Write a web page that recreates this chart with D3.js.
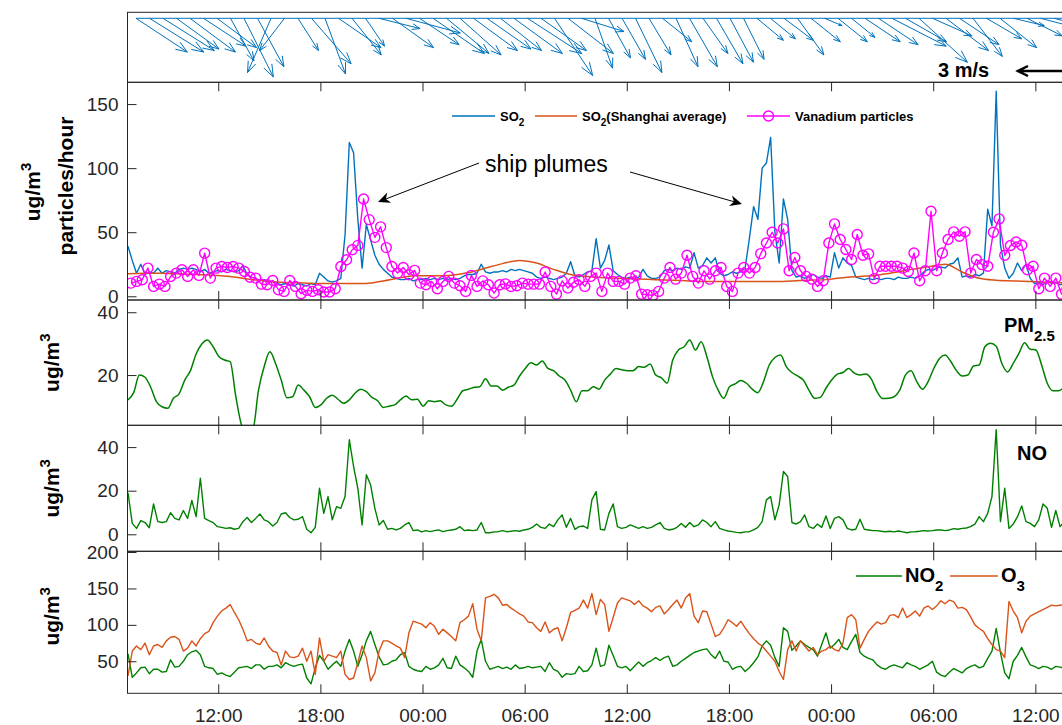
<!DOCTYPE html>
<html>
<head>
<meta charset="utf-8">
<script src="https://cdn.jsdelivr.net/npm/d3@7"></script>
<style>
  body { margin: 0; background: #fff; }
  svg { display: block; }
</style>
</head>
<body>
<svg id="chart"></svg>
<script>
// ---- data (hours counted from 00:00 of the first day) ----
// 15-minute series
let qStart = 6.7, qStep = 0.25;
let so2 = [39,28,18,25,17,19,18,22,18,20, 19,18,21,22,21,22,21,19,21,18,
  19,20,19,21,20,19,20,24,17,15, 14,12,13,11,12,10,9,10,9,8,
  10,9,8,10,9,18,15,12,11,12, 14,48,120,112,60,22,56,44,32,25,
  21,18,15,14,13,13,14,12,13,13, 14,13,14,13,14,13,14,13,14,16,
  17,17,18,25,19,18,19,19,20,19, 21,20,21,20,19,18,15,14,15,14,
  13,14,15,18,27,16,15,17,19,20, 45,22,28,40,20,17,15,14,15,14,
  15,21,16,14,14,15,20,21,20,22, 21,23,22,34,22,24,30,26,30,18,
  16,17,19,18,19,22,45,70,60,100, 104,124,50,26,76,60,20,15,16,14,
  15,17,15,14,16,15,34,22,30,26, 24,15,14,13,14,13,14,13,14,14,
  13,15,14,14,15,14,16,19,21,20, 22,23,22,25,26,30,15,16,15,17,
  16,18,68,55,160,40,22,14,18,26, 20,25,14,10,11,9,12,10,11,9, 10];
let no = [19,5,2.7,6.3,5.4,3,13.9,5.8,5.4,5.8, 9.9,7.3,6.6,10.9,7.3,15.5,8.1,25.7,7.3,6.3,
  5.4,3.5,3.2,2.7,3,2.3,2.7,5.8,7.7,5.4, 7.3,9.3,6.6,5.8,3.8,5.4,9.3,9.9,7.7,6.6,
  6.9,8.1,2.3,0.7,3.2,21.1,9.6,17.3,6.6,12.7, 11.9,17.3,43.4,31.1,21.1,4.3,27.3,22.7,11.9,4.3,
  6.3,2.3,2.7,2,2.7,4.3,5.4,1.7,2,1.1, 1.7,1.2,1.7,2,1.2,1.7,2,2.3,3.5,1.7,
  2,1.7,2,5.4,0.7,0.7,1.1,1.2,1.7,1.2, 1.4,1.7,1.4,2,2.3,3.2,4.7,3.2,2.7,4.7,
  3.5,6.6,8.9,3.2,7.3,2.3,3.5,3.8,2.7,15.8, 19.6,2.3,2,9.6,13.9,3.5,2.7,3.2,4.3,3.5,
  2.7,3.5,2.7,3.2,4.3,5.4,2.7,2,2.3,3.2, 5,3.2,5.4,3.5,4.3,6.6,5.4,3.5,5.8,2.7,
  2,1.5,1.2,0.9,0.7,1.1,1.2,2,3.2,5.8, 15.8,17.3,6.6,13.5,28.8,26.5,5.4,4.7,5.8,8.9,
  3.5,2.7,4.7,3.2,8.4,2.7,7.3,8.1,6.6,2.7, 2,2.3,6.9,2.3,2,1.7,1.7,1.4,1.2,1.4,
  1.1,1.5,1.1,0.7,1.1,1.2,1.4,1.7,1.5,1.7, 2,2,1.7,2,2.6,2.3,2.7,2.9,3.5,4.7,
  8.1,5.8,9.6,17.3,48,5.8,21.1,2.7,4.7,8.1, 13,5.8,5,3.5,6.6,13.9,11.9,3.2,10.9,3.5, 5.8];
let no2 = [60,28,34,41,42,33,39,39,35,36, 52,42,43,50,59,63,65,59,43,41,
  40,32,34,31,29,35,41,42,43,40, 45,45,39,43,43,45,41,48,45,43,
  45,46,27,19,41,58,50,39,45,50, 43,64,80,64,43,59,78,91,73,56,
  45,46,50,52,59,62,43,39,37,36, 43,39,41,45,54,41,40,57,45,41,
  36,28,64,80,50,39,41,43,40,42, 39,45,40,41,43,41,42,43,36,48,
  39,36,28,33,32,33,43,36,37,45, 68,43,45,72,58,43,41,43,37,43,
  49,43,48,51,55,51,55,57,43,45, 50,54,58,62,64,66,67,59,54,64,
  50,49,39,42,43,36,41,48,56,71, 78,72,55,43,96,91,65,71,78,73,
  69,66,57,73,89,68,73,80,69,66, 77,87,62,57,54,52,45,41,39,43,
  45,43,41,48,45,43,39,42,45,50, 35,31,29,35,40,37,34,40,43,45,
  41,43,54,64,95,62,34,26,50,58, 69,56,45,43,40,43,42,39,43,42, 41];
let o3 = [30,64,71,66,75,59,71,73,69,78, 83,84,80,64,68,78,71,81,88,91,
  103,112,119,123,128,117,107,94,78,80, 75,73,82,71,64,62,45,64,56,55,
  57,68,50,64,32,82,50,59,57,55, 64,32,25,27,48,71,55,23,34,64,
  78,78,75,71,68,55,89,105,103,101, 96,103,98,87,94,89,84,78,103,107,
  112,129,94,78,137,139,142,137,127,128, 123,119,115,112,104,103,96,91,104,89,
  94,96,78,96,117,120,123,134,123,143, 114,135,128,91,110,130,137,135,133,128,
  133,126,123,118,124,126,115,121,128,134, 123,137,143,112,103,119,118,101,84,87,
  96,107,103,98,105,96,88,81,75,71, 64,57,50,36,25,66,78,64,78,71,
  64,69,59,64,66,71,66,64,75,110, 114,107,68,80,91,98,104,101,103,113,
  114,110,123,110,114,119,112,123,126,121, 126,133,129,134,132,123,124,121,111,100,
  95,91,81,73,66,64,55,132,119,110, 89,105,112,115,118,121,124,127,126,127, 128];

// 20-minute series
let pmStart = 6.7, pmStep = 1 / 3;
let pm25 = [12.1,14.4,20,19.3,16.1,11.5,9.9,9.4,12.6,14, 18.4,21.4,26.7,29.9,31.2,29,25.9,24.8,24.3,13.1,
  4.1,1.4,2.5,15.2,22.7,27.4,23.7,18.4,12.8,13.1, 16.8,15.2,13.1,9.7,10.5,12.6,13.6,12.3,11,12.1,
  14.2,15.5,14.7,12.9,11.8,9.7,10.1,10.5,12.1,13.3, 12.1,12.3,10.1,11.8,11.5,11.8,10.5,10.1,12.3,15,
  15.5,16.1,16.3,18.8,16.5,16.5,15.2,16.1,16.8,19.7, 22.1,23.9,23.2,24.5,22.1,21.4,19.7,18.4,15.2,11.5,
  15,15,16.3,15.5,18.4,20.3,22.1,21.7,21.4,21.4, 22.7,22.5,23.5,20,19.1,17.4,24.8,28,29,31.2,
  28,30.6,25.9,19.5,15.2,12.6,16.3,17.2,18.3,17.4, 15.5,14.4,17.9,23.2,25.6,26.4,22.7,20.8,19.7,18.4,
  15.2,12.6,12.9,15.8,18.4,20.3,20.8,22.1,20.6,20, 20.3,18.7,14.7,12.5,12.6,13.1,15.2,20,21.4,17.9,
  15.5,17.9,22.1,25.3,26.4,24.3,21.4,19.7,20,22.9, 23.2,29,30.1,29.2,23.7,21,23.7,26.9,30.3,28.2,
  28,23.2,17.4,15,15,16.1];
let vanStart = 6.87, vanStep = 1 / 3;
let vanadium = [10.3,11.6,12.9,22,7.7,9.5,7.7,15.5,18.1,20.7, 15.5,20.7,16.3,33.7,14.2,22,23.3,22.5,23.3,22,
  19.4,14.8,14.2,9.5,9,12.3,5.1,3.8,12.3,7.7, 2,4.6,3.8,5.1,3.3,3.3,5.9,23.3,28.5,36.3,
  39.7,75.9,59.8,46,54.2,38,23.3,18.1,22.5,16.8, 20.2,10.3,9,11.6,5.9,11.6,15.5,10.3,8.2,3.8,
  16.3,7.7,12,9,2.5,9,9.7,7.7,8.2,10.3, 9.5,9.5,9.5,18.9,7.7,1.7,12,6.4,11,12.9,
  7.7,15.5,18.1,3.8,18.1,11.6,11.6,9.5,14.2,16, 1.7,1.2,0.7,3.8,14.2,22.5,13.4,18.1,32,15.5,
  10.3,19.9,13.4,19.9,22.5,7.7,3.8,18.1,22.5,18.1, 22.5,33.3,41.6,50,41.6,52.6,19.9,30.3,19.9,15.5,
  13.4,7.7,12.1,41.6,56.5,44.3,36.5,28.7,48.2,32, 33.1,13.8,23.4,23.4,23.4,23.4,22,19.4,33.8,12.1,
  19.9,66.4,19.9,33.8,44.3,50.3,46.9,50.3,18.1,28.7, 24.7,23.4,50,60.4,32,39.6,42.4,39.8,20.7,23.4,
  5.9,14.2,7.7,14.2,1.7,5.9];

// hourly series
let shStart = 6.7, shStep = 1;
let so2Shanghai = [17.5,18,18,17.5,17,16.5,15.5,13.5,12,11, 10.5,10,10,10,10,12,14.5,16,16,16.5,
  18.5,22,25.5,28,26,21,17,15.5,14.5,14, 13.5,13,12.5,12,11.5,11.5,11.5,11.5,11.5,12,
  12.5,13,14.5,15.5,16.5,18.5,21,23,25,19, 14,12.5,12,11.5,11,10.5];

// wind vectors, m/s (east, north)
let windU = [3.5,3.7,3.5,2.9,3.1,2.9,2.7,1.6,2.0,1.8, -1.6,-1.7,1.4,2.7,1.4,2.9,2.0,1.3,2.8,2.8,
  3.7,2.7,3.5,2.9,2.8,3.0,3.0,2.8,3.3,3.7, 3.1,2.6,3.1,2.9,1.2,1.5,1.6,1.8,1.5,2.0,
  1.5,1.9,1.7,1.8,1.6,1.4,1.8,1.7,2.0,1.8, 2.0,1.2,2.0,1.6,2.4,2.7,3.7,2.8,3.3,2.7,
  2.9,2.7,2.0,2.4,2.5,2.1,2.4,2.7,2.7];
let windV = [-2.3,-2.3,-2.2,-2.1,-2.3,-1.9,-2.0,-2.9,-4.0,-3.3, -3.7,-2.2,-2.2,-3.1,-3.8,-2.0,-2.5,-1.9,-0.7,-2.0,
  -1.0,-1.8,-2.4,-2.4,-2.5,-2.2,-2.1,-2.2,-2.4,-2.4, -2.2,-3.9,-2.4,-0.9,-3.4,-2.7,-2.8,-3.7,-2.5,-1.6,
  -3.3,-3.3,-2.4,-3.1,-3.0,-2.8,-1.5,-1.4,-1.5,-2.5, -1.6,-0.5,-1.6,-1.3,-1.6,-1.8,-1.9,-1.6,-3.0,-1.2,
  -2.2,-1.8,-2.6,-1.4,-2.0,-0.5,-1.2,-0.7,-0.7];
let windRef = 3;

let tickHours = [12, 18, 24, 30, 36, 42, 48, 54, 60];
let tickLabels = ["12:00", "18:00", "00:00", "06:00", "12:00", "18:00", "00:00", "06:00", "12:00"];

// ---- layout ----
let W = 1062, H = 725;
let left = 127.5, right = 1066;
let font = '"Liberation Sans", Arial, Helvetica, sans-serif';
let axisColor = '#262626';

let svg = d3.select('#chart').attr('width', W).attr('height', H)
  .attr('font-family', font);

let x = d3.scaleLinear().domain([6.67, 61.8]).range([left, right]);

let panels = [
  {id: 'so2', top: 82.3, bottom: 300, domain: [-2.9, 167], ticks: [0, 50, 100, 150]},
  {id: 'pm', top: 300, bottom: 425.3, domain: [4, 43.9], ticks: [20, 40]},
  {id: 'no', top: 425.3, bottom: 551.3, domain: [-7.8, 50], ticks: [0, 20, 40]},
  {id: 'ox', top: 551.3, bottom: 693.3, domain: [6, 201], ticks: [50, 100, 150, 200]}
];
panels.forEach(p => {
  p.y = d3.scaleLinear().domain(p.domain).range([p.bottom, p.top]);
  svg.append('clipPath').attr('id', 'clip-' + p.id)
    .append('rect').attr('x', left).attr('y', p.top)
    .attr('width', right - left).attr('height', p.bottom - p.top);
});
let P = {};
panels.forEach(p => P[p.id] = p);

function series(values, start, step) {
  return values.map((v, i) => ({t: start + i * step, v: v}));
}

function drawLine(p, data, color, width, curve) {
  let line = d3.line().x(d => x(d.t)).y(d => p.y(d.v));
  if (curve) line.curve(curve);
  return svg.append('path')
    .attr('clip-path', 'url(#clip-' + p.id + ')')
    .attr('d', line(data))
    .attr('fill', 'none').attr('stroke', color).attr('stroke-width', width)
    .attr('stroke-linejoin', 'round');
}

// ---- SO2 panel ----
drawLine(P.so2, series(so2, qStart, qStep), '#0072BD', 1.4);
drawLine(P.so2, series(so2Shanghai, shStart, shStep), '#D95319', 1.5, d3.curveMonotoneX);
let van = series(vanadium, vanStart, vanStep);
drawLine(P.so2, van, '#FF00FF', 1.4);
svg.append('g').attr('clip-path', 'url(#clip-so2)')
  .selectAll('circle').data(van).enter().append('circle')
  .attr('cx', d => x(d.t)).attr('cy', d => P.so2.y(d.v)).attr('r', 5)
  .attr('fill', 'none').attr('stroke', '#FF00FF').attr('stroke-width', 1.4);

// ---- PM2.5 ----
drawLine(P.pm, series(pm25, pmStart, pmStep), '#008000', 1.5, d3.curveMonotoneX);

// ---- NO ----
drawLine(P.no, series(no, qStart, qStep), '#008000', 1.4);

// ---- NO2 / O3 ----
drawLine(P.ox, series(no2, qStart, qStep), '#008000', 1.4);
drawLine(P.ox, series(o3, qStart, qStep), '#D95319', 1.4);

// ---- axes ----
panels.forEach((p, k) => {
  svg.append('rect').attr('x', left).attr('y', p.top)
    .attr('width', right - left).attr('height', p.bottom - p.top)
    .attr('fill', 'none').attr('stroke', axisColor).attr('stroke-width', 1);

  let ya = svg.append('g').attr('transform', `translate(${left},0)`)
    .call(d3.axisLeft(p.y).tickValues(p.ticks).tickSizeInner(-9).tickSizeOuter(0).tickPadding(9));
  ya.select('.domain').remove();

  let xb = svg.append('g').attr('transform', `translate(0,${p.bottom})`)
    .call(d3.axisBottom(x).tickValues(tickHours).tickSizeInner(-9).tickSizeOuter(0).tickPadding(15)
      .tickFormat((d, i) => k === panels.length - 1 ? tickLabels[i] : ''));
  xb.select('.domain').remove();

  let xt = svg.append('g').attr('transform', `translate(0,${p.top})`)
    .call(d3.axisTop(x).tickValues(tickHours).tickSizeInner(-9).tickSizeOuter(0).tickFormat(''));
  xt.select('.domain').remove();

  [ya, xb, xt].forEach(a => a.attr('font-size', 19).attr('font-family', font).attr('color', axisColor));
});

// ---- y labels ----
function ylabel(cx, cy, txt, sup) {
  let t = svg.append('text')
    .attr('transform', `translate(${cx},${cy}) rotate(-90)`)
    .attr('text-anchor', 'middle').attr('font-size', 21).attr('font-weight', 'bold').attr('fill', '#000');
  t.append('tspan').text(txt);
  if (sup) t.append('tspan').attr('font-size', 15).attr('dy', -9).text(sup);
}
ylabel(40, 192, 'ug/m', '3');
ylabel(73, 186, 'particles/hour');
ylabel(59, (P.pm.top + P.pm.bottom) / 2, 'ug/m', '3');
ylabel(59, (P.no.top + P.no.bottom) / 2, 'ug/m', '3');
ylabel(59, (P.ox.top + P.ox.bottom) / 2 - 6, 'ug/m', '3');

// ---- in-panel labels ----
let pmLab = svg.append('text').attr('x', 1004).attr('y', 332)
  .attr('font-size', 20).attr('font-weight', 'bold');
pmLab.append('tspan').text('PM');
pmLab.append('tspan').attr('font-size', 15).attr('dy', 9).text('2.5');

svg.append('text').attr('x', 1017).attr('y', 460)
  .attr('font-size', 20).attr('font-weight', 'bold').text('NO');

// ---- SO2 legend ----
let legY = 116;
function legendItem(x1, x2, color, marker, parts) {
  svg.append('line').attr('x1', x1).attr('x2', x2).attr('y1', legY).attr('y2', legY)
    .attr('stroke', color).attr('stroke-width', 1.5);
  if (marker) svg.append('circle').attr('cx', (x1 + x2) / 2).attr('cy', legY).attr('r', 5)
    .attr('fill', 'none').attr('stroke', color).attr('stroke-width', 1.4);
  let t = svg.append('text').attr('x', x2 + 5).attr('y', legY + 5)
    .attr('font-size', 13).attr('font-weight', 'bold');
  parts.forEach(pt => {
    let s = t.append('tspan').text(pt.t);
    if (pt.sub) s.attr('font-size', 10).attr('dy', 5);
    if (pt.up) s.attr('dy', -5);
  });
}
legendItem(452, 495, '#0072BD', false, [{t: 'SO'}, {t: '2', sub: true}]);
legendItem(535, 577, '#D95319', false, [{t: 'SO'}, {t: '2', sub: true}, {t: '(Shanghai average)', up: true}]);
legendItem(747, 790, '#FF00FF', true, [{t: 'Vanadium particles'}]);

// ---- NO2 / O3 legend ----
function legend2(x1, x2, color, main, sub) {
  let ly = 576;
  svg.append('line').attr('x1', x1).attr('x2', x2).attr('y1', ly).attr('y2', ly)
    .attr('stroke', color).attr('stroke-width', 1.5);
  let t = svg.append('text').attr('x', x2 + 3).attr('y', ly + 6)
    .attr('font-size', 20).attr('font-weight', 'bold');
  t.append('tspan').text(main);
  t.append('tspan').attr('font-size', 15).attr('dy', 9).text(sub);
}
legend2(856, 902, '#008000', 'NO', '2');
legend2(950, 998, '#D95319', 'O', '3');

// ---- ship plume annotation ----
svg.append('text').attr('x', 485).attr('y', 172).attr('font-size', 23).text('ship plumes');
function annArrow(x1, y1, x2, y2) {
  let a = Math.atan2(y2 - y1, x2 - x1), L = 12, w = 5.5;
  let bx = x2 - L * Math.cos(a), by = y2 - L * Math.sin(a);
  let nx = x2 - 0.7 * L * Math.cos(a), ny = y2 - 0.7 * L * Math.sin(a);
  svg.append('line').attr('x1', x1).attr('y1', y1).attr('x2', nx).attr('y2', ny)
    .attr('stroke', '#000').attr('stroke-width', 1);
  let px = -Math.sin(a), py = Math.cos(a);
  svg.append('path')
    .attr('d', `M${x2},${y2}L${bx + w * px},${by + w * py}L${nx},${ny}L${bx - w * px},${by - w * py}Z`)
    .attr('fill', '#000');
}
annArrow(479, 163, 378, 202);
annArrow(630, 172, 742, 204);

// ---- wind quiver ----
let windTop = 12.3, windBottom = 82.3, windBase = 18.3;
svg.append('rect').attr('x', left).attr('y', windTop)
  .attr('width', right - left).attr('height', windBottom - windTop)
  .attr('fill', 'none').attr('stroke', axisColor);
let xq = d3.scaleLinear().domain([0, windU.length - 1]).range([136, 1054]);
let ws = d3.scaleLinear().domain([0, windRef]).range([0, 44]);
let quiver = svg.append('g').attr('stroke', '#0072BD').attr('stroke-width', 1).attr('fill', 'none');
quiver.append('line').attr('x1', xq(0)).attr('x2', W).attr('y1', windBase).attr('y2', windBase);
windU.forEach((u, i) => {
  let x0 = xq(i), y0 = windBase;
  let x1 = x0 + ws(u), y1 = y0 - ws(windV[i]);
  let len = Math.hypot(x1 - x0, y1 - y0), a = Math.atan2(y1 - y0, x1 - x0);
  let h = 0.2 * len, spread = 0.35;
  quiver.append('path').attr('d',
    `M${x0},${y0}L${x1},${y1}` +
    `M${x1 - h * Math.cos(a - spread)},${y1 - h * Math.sin(a - spread)}L${x1},${y1}` +
    `L${x1 - h * Math.cos(a + spread)},${y1 - h * Math.sin(a + spread)}`);
});
// reference arrow
let refY = 71, refTip = 1018;
svg.append('path')
  .attr('d', `M${refTip + ws(windRef)},${refY}L${refTip},${refY}M${refTip + 10},${refY - 5}L${refTip},${refY}L${refTip + 10},${refY + 5}`)
  .attr('stroke', '#000').attr('stroke-width', 2.5).attr('fill', 'none');
svg.append('text').attr('x', 938).attr('y', 77).attr('font-size', 20).attr('font-weight', 'bold')
  .text(windRef + ' m/s');
</script>
</body>
</html>
